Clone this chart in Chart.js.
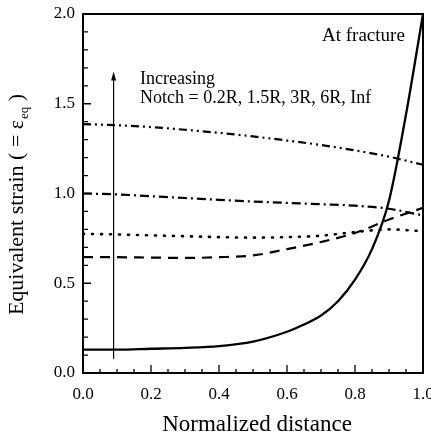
<!DOCTYPE html>
<html>
<head>
<meta charset="utf-8">
<script src="https://cdn.jsdelivr.net/npm/chart.js@4"></script>
<style>
  html, body { margin: 0; padding: 0; background: #fff; }
  #wrap { width: 431px; height: 438px; }
</style>
</head>
<body>
<div id="wrap"><canvas id="strainChart"></canvas></div>
<script>
// normalized distance samples
const distance = [0, 0.1, 0.2, 0.3, 0.4, 0.5, 0.6, 0.7, 0.8, 0.9, 1.0];
const solidDistance = [0, 0.1, 0.2, 0.3, 0.4, 0.5, 0.6, 0.65, 0.7, 0.75, 0.8, 0.85, 0.9, 0.95, 1.0];

// equivalent strain per notch radius
const notch02R = [0.13, 0.13, 0.135, 0.14, 0.15, 0.175, 0.23, 0.27, 0.32, 0.40, 0.52, 0.69, 0.96, 1.44, 2.0];
const notch15R = [0.645, 0.645, 0.643, 0.641, 0.645, 0.655, 0.69, 0.73, 0.78, 0.855, 0.92];
const notch3R = [0.775, 0.772, 0.767, 0.762, 0.757, 0.754, 0.757, 0.765, 0.785, 0.80, 0.79];
const notch6R = [1.0, 0.995, 0.985, 0.975, 0.965, 0.955, 0.948, 0.94, 0.932, 0.915, 0.878];
const notchInf = [1.387, 1.38, 1.37, 1.355, 1.338, 1.318, 1.295, 1.27, 1.24, 1.205, 1.16];

const xTicks = [0, 0.2, 0.4, 0.6, 0.8, 1.0];
const yTicks = [0, 0.5, 1.0, 1.5, 2.0];

// arrow annotation (x, from, to)
const arrowX = 0.09;
const arrowFrom = 0.08;
const arrowTo = 1.68;

const serif = "'Liberation Serif', 'Times New Roman', serif";

function pts(xs, ys) {
  return ys.map((y, i) => ({ x: xs[i], y: y }));
}

function line(data, dash, width) {
  return {
    data: data,
    borderColor: "#000",
    borderWidth: width || 2,
    borderDash: dash,
    borderCapStyle: dash.length && dash[0] < 3 ? "round" : "butt",
    pointRadius: 0,
    fill: false,
    cubicInterpolationMode: "monotone"
  };
}

// frame, inward ticks, arrow and free text
const decorations = {
  id: "decorations",
  afterDatasetsDraw(chart) {
    const ctx = chart.ctx;
    const a = chart.chartArea;
    const xs = chart.scales.x;
    const ys = chart.scales.y;
    ctx.save();
    ctx.strokeStyle = "#000";
    ctx.fillStyle = "#000";

    // frame
    ctx.lineWidth = 2;
    ctx.strokeRect(a.left, a.top, a.right - a.left, a.bottom - a.top);

    // ticks
    ctx.lineWidth = 1.3;
    ctx.beginPath();
    for (let i = 0; i <= 20; i++) {
      const px = xs.getPixelForValue(i * 0.05);
      const len = i % 4 === 0 ? 8 : 4;
      ctx.moveTo(px, a.bottom);
      ctx.lineTo(px, a.bottom - len);
    }
    for (let i = 0; i <= 20; i++) {
      const py = ys.getPixelForValue(i * 0.1);
      const len = i % 5 === 0 ? 8 : 5;
      ctx.moveTo(a.left, py);
      ctx.lineTo(a.left + len, py);
    }
    ctx.stroke();

    // arrow
    const ax = xs.getPixelForValue(arrowX);
    const ay0 = ys.getPixelForValue(arrowFrom);
    const ay1 = ys.getPixelForValue(arrowTo);
    ctx.lineWidth = 1.2;
    ctx.beginPath();
    ctx.moveTo(ax, ay0);
    ctx.lineTo(ax, ay1 + 6);
    ctx.stroke();
    ctx.beginPath();
    ctx.moveTo(ax, ay1);
    ctx.lineTo(ax - 2.5, ay1 + 9);
    ctx.lineTo(ax + 2.5, ay1 + 9);
    ctx.closePath();
    ctx.fill();

    // annotations
    ctx.font = "18px " + serif;
    ctx.textAlign = "left";
    ctx.textBaseline = "alphabetic";
    ctx.fillText("Increasing", 140, 84);
    ctx.fillText("Notch = 0.2R, 1.5R, 3R, 6R, Inf", 140, 103);
    ctx.font = "19px " + serif;
    ctx.fillText("At fracture", 322, 41);

    // x title
    ctx.font = "23px " + serif;
    ctx.textAlign = "center";
    ctx.fillText("Normalized distance", 257, 431);

    // y title with subscript
    ctx.translate(23, 205);
    ctx.rotate(-Math.PI / 2);
    const main = "Equivalent strain ( = \u03b5";
    const sub = "eq";
    const tail = " )";
    ctx.font = "22px " + serif;
    const wMain = ctx.measureText(main).width;
    const wTail = ctx.measureText(tail).width;
    ctx.font = "13px " + serif;
    const wSub = ctx.measureText(sub).width;
    let x0 = -(wMain + wSub + wTail) / 2;
    ctx.textAlign = "left";
    ctx.font = "22px " + serif;
    ctx.fillText(main, x0, 0);
    ctx.font = "13px " + serif;
    ctx.fillText(sub, x0 + wMain + 1, 5);
    ctx.font = "22px " + serif;
    ctx.fillText(tail, x0 + wMain + wSub + 1, 0);
    ctx.restore();
  }
};

const ctx = document.getElementById("strainChart").getContext("2d");
new Chart(ctx, {
  type: "line",
  data: {
    datasets: [
      line(pts(solidDistance, notch02R), [], 2.3),
      line(pts(distance, notch15R), [10, 7], 2.2),
      line(pts(distance, notch3R), [1, 8], 2.6),
      line(pts(distance, notch6R), [9, 4, 2, 4], 2.2),
      line(pts(distance, notchInf), [8, 4, 2, 4, 2, 4], 2.2)
    ]
  },
  options: {
    responsive: true,
    maintainAspectRatio: false,
    animation: false,
    events: [],
    layout: { padding: { top: 14, right: 8, left: 0, bottom: 0 } },
    plugins: {
      legend: { display: false },
      tooltip: { enabled: false }
    },
    scales: {
      x: {
        type: "linear",
        min: 0,
        max: 1,
        afterBuildTicks: (s) => { s.ticks = xTicks.map(v => ({ value: v })); },
        afterFit: (s) => { s.height = 65; s.paddingLeft = 0; s.paddingRight = 0; },
        grid: { display: false, drawTicks: false },
        border: { display: false },
        ticks: {
          padding: 11,
          color: "#000",
          font: { family: serif, size: 17 },
          callback: (v) => v.toFixed(1),
          maxRotation: 0
        }
      },
      y: {
        type: "linear",
        min: 0,
        max: 2,
        afterBuildTicks: (s) => { s.ticks = yTicks.map(v => ({ value: v })); },
        afterFit: (s) => { s.width = 83; s.paddingTop = 0; s.paddingBottom = 0; },
        grid: { display: false, drawTicks: false },
        border: { display: false },
        ticks: {
          padding: 8,
          color: "#000",
          font: { family: serif, size: 17 },
          callback: (v) => v.toFixed(1)
        }
      }
    }
  },
  plugins: [decorations]
});
</script>
</body>
</html>
